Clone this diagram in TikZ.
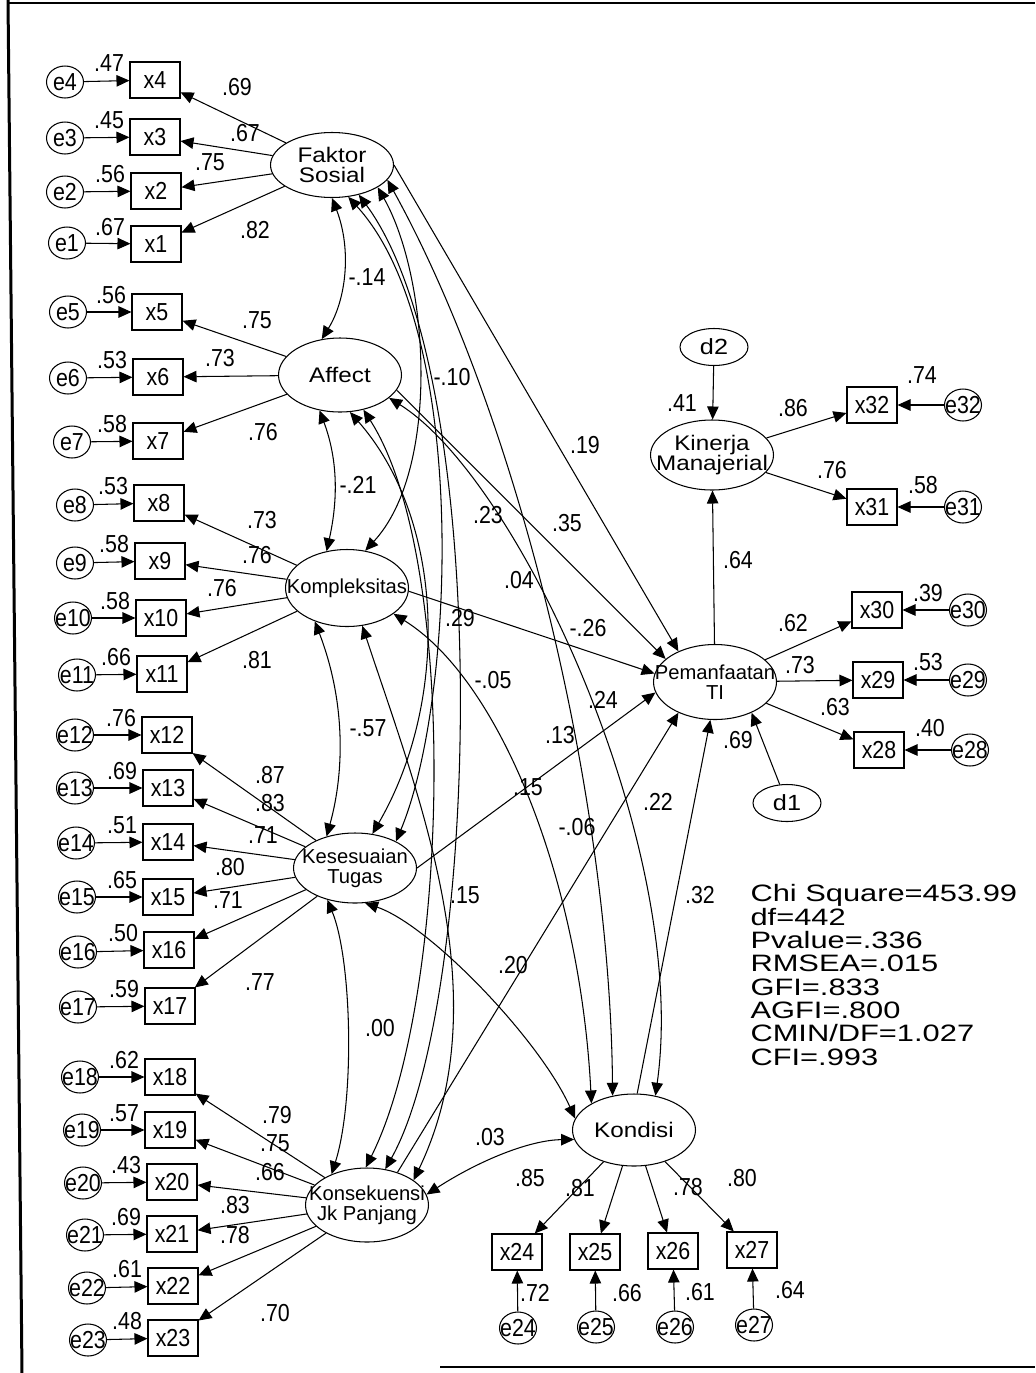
\documentclass[tikz,border=0pt]{standalone}
\usepackage{fontspec}
\setmainfont{Liberation Sans}
\newfontfamily\narrowfont[FakeStretch=0.87]{Liberation Sans}
\newfontfamily\widefont[FakeStretch=1.15]{Liberation Sans}
\newfontfamily\statfont[FakeStretch=1.3]{Liberation Sans}
\usetikzlibrary{arrows.meta,shapes.geometric,positioning,calc}
\tikzset{
  latent/.style={ellipse, draw, inner xsep=-.6cm, inner ysep=-.2cm,
    minimum width=2.46cm, minimum height=1.44cm, align=center},
  widelv/.style={latent, font=\widefont\fontsize{12}{11.4}\selectfont},
  narrowlv/.style={latent, font=\fontsize{11.5}{11.4}\selectfont},
  distnode/.style={ellipse, draw, inner sep=0pt, minimum width=1.36cm,
    minimum height=.74cm, font=\widefont\fontsize{12.5}{13}\selectfont},
  obsbox/.style={rectangle, draw, inner sep=0pt, minimum width=1cm,
    minimum height=.72cm, font=\narrowfont\fontsize{14}{14}\selectfont},
  errnode/.style={ellipse, draw, inner xsep=-.3cm, inner ysep=-.15cm,
    minimum width=.74cm, minimum height=.64cm, font=\narrowfont\fontsize{14}{14}\selectfont},
  lbl/.style={inner sep=0pt, font=\narrowfont\fontsize{14}{14}\selectfont},
  regarrow/.style={-{Triangle[length=.26cm,width=.23cm]}},
  covarrow/.style={{Triangle[length=.26cm,width=.23cm]}-{Triangle[length=.26cm,width=.23cm]}},
  statbox/.style={inner sep=0pt, align=left,
    font=\statfont\fontsize{13.5}{13.3}\selectfont,
    execute at begin node={\lineskiplimit=-20pt\relax}}
}

\begin{document}
\begin{tikzpicture}[x=.02cm, y=-.02cm, line width=.6pt]
  \useasboundingbox (0,0) rectangle (1035,1373);
  % frame of the scanned page
  \draw[line width=.06cm] (8,0) -- (22,1373);
  \draw[line width=.03cm] (8,3) -- (1035,3);
  \draw[line width=.05cm] (440,1367) -- (1035,1367);

  % latent variables
  \node[widelv, minimum height=1.3cm] (fs) at (332,165) {Faktor\\Sosial};
  \node[widelv, minimum height=1.48cm] (aff) at (340,375) {Affect};
  \node[narrowlv, minimum height=1.54cm] (komp) at (347,588) {Kompleksitas};
  \node[narrowlv, minimum height=1.4cm] (kes) at (355,868) {Kesesuaian\\Tugas};
  \node[narrowlv, minimum height=1.48cm] (kons) at (367,1205) {Konsekuensi\\Jk Panjang};
  \node[widelv] (kond) at (634,1130) {Kondisi};
  \node[narrowlv, minimum height=1.5cm] (pti) at (715,682) {Pemanfaatan\\TI};
  \node[widelv, minimum height=1.4cm] (km) at (712,455) {Kinerja\\Manajerial};
  \node[distnode] (d2) at (714,347) {d2};
  \node[distnode] (d1) at (787,803) {d1};

  % indicators of the left column
  \foreach \i/\bx/\by/\ex/\ey/\rsq in {
      4/155/80/65/82/.47, 3/155/137/65/138/.45, 2/156/191/65/192/.56, 1/156/244/67/243/.67,
      5/157/312/68/312/.56, 6/158/377/68/378/.53, 7/158/441/72/442/.58,
      8/159/503/75/505/.53, 9/160/561/75/563/.58, 10/161/618/73/618/.58, 11/162/674/77/675/.66,
      12/167/735/75/735/.76, 13/168/788/75/788/.69, 14/168/842/76/843/.51,
      15/168/897/77/897/.65, 16/169/950/78/952/.50, 17/170/1006/78/1007/.59,
      18/170/1077/80/1077/.62, 19/170/1130/82/1130/.57, 20/172/1182/83/1183/.43,
      21/172/1234/85/1235/.69, 22/173/1286/87/1288/.61, 23/173/1338/88/1340/.48}{
    \node[obsbox] (x\i) at (\bx,\by) {x\i};
    \node[errnode] (e\i) at (\ex,\ey) {e\i};
    \draw[regarrow] (e\i) -- (x\i);
    \node[lbl, anchor=east] (r\i) at ([xshift=-.1cm, yshift=-.04cm]x\i.north west) {\rsq};
  }

  % indicators on the right and below
  \foreach \i/\bx/\by/\ex/\ey in {32/872/405/963/405, 31/872/507/963/507,
      30/877/610/968/610, 29/878/680/968/680, 28/879/750/970/750,
      24/517/1252/518/1328, 25/595/1252/596/1327, 26/673/1251/675/1327, 27/752/1250/754/1325}{
    \node[obsbox] (x\i) at (\bx,\by) {x\i};
    \node[errnode] (e\i) at (\ex,\ey) {e\i};
    \draw[regarrow] (e\i) -- (x\i);
  }
  \foreach \i/\rsq/\lx/\ly in {32/.74/922/375, 31/.58/923/485, 30/.39/928/593, 29/.53/928/662,
      28/.40/930/728, 24/.72/535/1293, 25/.66/627/1293, 26/.61/700/1292, 27/.64/790/1290}
    \node[lbl] (r\i) at (\lx,\ly) {\rsq};

  % loadings
  \foreach \lv/\i/\v/\lx/\ly in {
      fs/4/.69/237/87, fs/3/.67/245/133, fs/2/.75/210/162, fs/1/.82/255/230,
      aff/5/.75/257/320, aff/6/.73/220/358, aff/7/.76/263/432,
      komp/8/.73/262/520, komp/9/.76/257/555, komp/10/.76/222/588, komp/11/.81/257/660,
      kes/12/.87/270/775, kes/13/.83/270/803, kes/14/.71/263/835, kes/15/.80/230/867,
      kes/16/.71/228/900, kes/17/.77/260/982,
      kons/18/.79/277/1115, kons/19/.75/275/1143, kons/20/.66/270/1172, kons/21/.83/235/1205,
      kons/22/.78/235/1235, kons/23/.70/275/1313,
      kond/24/.85/530/1178, kond/25/.81/580/1188, kond/26/.78/688/1187, kond/27/.80/742/1178,
      pti/30/.62/793/623, pti/29/.73/800/665, pti/28/.63/835/707,
      km/32/.86/793/408, km/31/.76/832/470}{
    \draw[regarrow] (\lv) -- (x\i);
    \node[lbl] (l\i) at (\lx,\ly) {\v};
  }

  % regressions
  \draw[regarrow] (fs.east) -- (pti.140);
  \draw[regarrow] (aff.-15) -- (pti.155);
  \draw[regarrow] (komp.-3) -- (pti.172);
  \draw[regarrow] (kes.east) -- (pti.190);
  \draw[regarrow] (kons.47) -- (pti.-140);
  \draw[regarrow] (kond.85) -- (pti.-97);
  \draw[regarrow] (d1) -- (pti.-40);
  \draw[regarrow] (pti) -- (km);
  \draw[regarrow] (d2) -- (km);

  % covariances
  \draw[covarrow] (fs.-90) .. controls (352,250) and (346,300) .. (aff.117);
  \draw[covarrow] (fs.-26) .. controls (430,280) and (440,470) .. (komp.64);
  \draw[covarrow] (fs.-63) .. controls (470,330) and (455,700) .. (kes.33);
  \draw[covarrow] (fs.-48) .. controls (495,380) and (480,1000) .. (kons.63);
  \draw[covarrow] (fs.-15) .. controls (520,420) and (610,800) .. (kond.122);
  \draw[covarrow] (aff.-120) .. controls (338,460) and (338,500) .. (komp.119);
  \draw[covarrow] (aff.-75) .. controls (445,520) and (450,700) .. (kes.63);
  \draw[covarrow] (aff.-56) .. controls (460,560) and (450,1000) .. (kons.92);
  \draw[covarrow] (aff.-25) .. controls (520,480) and (690,850) .. (kond.58);
  \draw[covarrow] (komp.-134) .. controls (345,700) and (345,770) .. (kes.132);
  \draw[covarrow] (komp.-68) .. controls (420,800) and (500,1000) .. (kons.28);
  \draw[covarrow] (komp.-29) .. controls (500,680) and (580,880) .. (kond.148);
  \draw[covarrow] (kes.-131) .. controls (352,960) and (355,1100) .. (kons.139);
  \draw[covarrow] (kes.-74) .. controls (430,925) and (540,1040) .. (kond.169);
  \draw[covarrow] (kons.10) .. controls (480,1160) and (530,1140) .. (kond.-171);

  % estimates of paths and covariances
  \foreach \v/\lx/\ly [count=\k] in {-.14/367/277, -.10/452/377, .23/488/515, .04/519/580,
      .29/460/618, -.05/493/680, .13/560/735, .15/528/787, -.06/577/827, .15/465/895,
      .20/513/965, .00/380/1028, .03/490/1137, -.21/358/485, -.57/368/728,
      .19/585/445, .35/567/523, -.26/588/628, .24/603/700, .22/658/802, .32/700/895,
      .64/738/560, .41/682/403, .69/738/740}
    \node[lbl] (c\k) at (\lx,\ly) {\v};

  \node[statbox, anchor=north west] (stats) at (750,884)
    {Chi Square=453.99\\df=442\\Pvalue=.336\\RMSEA=.015\\GFI=.833\\AGFI=.800\\CMIN/DF=1.027\\CFI=.993};
\end{tikzpicture}
\end{document}
